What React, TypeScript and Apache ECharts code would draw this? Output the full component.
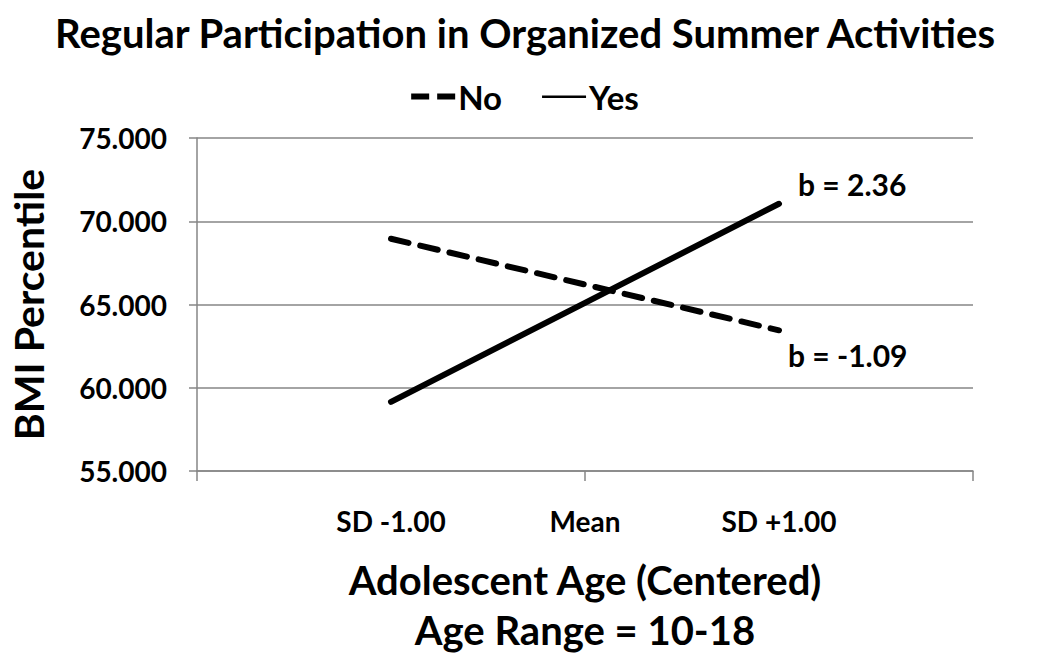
import React, { useEffect, useRef } from "react";
import * as echarts from "echarts";

const categories = ["", "SD -1.00", "Mean", "SD +1.00", ""];
const noValues = [null, 68.95, 66.2, 63.45, null];
const yesValues = [null, 59.15, 65.1, 71.05, null];
const seriesNames = ["No", "Yes"];
const slopeLabels = ["b = 2.36", "b = -1.09"];
const yTicks = [55, 60, 65, 70, 75];

const FONT = "Lato, 'Open Sans', sans-serif";

export default function App() {
  const ref = useRef<HTMLDivElement>(null);
  useEffect(() => {
    if (!ref.current) return;
    const chart = echarts.init(ref.current, null, { renderer: "svg" });
    chart.setOption({
      animation: false,
      backgroundColor: "#fff",
      title: {
        text: "Regular Participation in Organized Summer Activities",
        left: "center",
        top: 8,
        textStyle: { fontFamily: FONT, fontWeight: "bold", fontSize: 40, color: "#000" },
      },
      legend: {
        top: 75,
        left: "center",
        itemWidth: 44,
        itemHeight: 6,
        itemGap: 40,
        textStyle: { fontFamily: FONT, fontWeight: "bold", fontSize: 33, color: "#000", padding: [0, 0, 0, -2] },
        data: [
          { name: seriesNames[0], icon: "path://M0,0h18v6h-18z M26,0h18v6h-18z", itemStyle: { color: "#000" } },
          {
            name: seriesNames[1],
            icon: "path://M0,0h0.01v0.01h-0.01z M0,2h44v2.4h-44z M0,6h0.01v-0.01h-0.01z",
            itemStyle: { color: "#000" },
          },
        ],
      },
      grid: { left: 196, right: 77, top: 138, bottom: 197, containLabel: false },
      xAxis: {
        type: "category",
        data: categories,
        boundaryGap: false,
        name: "Adolescent Age (Centered)\nAge Range = 10-18",
        nameLocation: "middle",
        nameGap: 84,
        nameTextStyle: { fontFamily: FONT, fontWeight: "bold", fontSize: 40, color: "#000", lineHeight: 50 },
        axisLine: { show: true, lineStyle: { color: "#868686", width: 1.5 } },
        axisTick: { show: true, interval: (i: number) => i % 2 === 0, length: 10, lineStyle: { color: "#868686", width: 1.5 } },
        axisLabel: {
          interval: 0,
          margin: 36,
          fontFamily: FONT,
          fontWeight: "bold",
          fontSize: 28,
          color: "#000",
        },
        splitLine: { show: false },
      },
      yAxis: {
        type: "value",
        min: 55,
        max: 75,
        interval: 5,
        name: "BMI Percentile",
        nameLocation: "middle",
        nameGap: 148,
        nameTextStyle: { fontFamily: FONT, fontWeight: "bold", fontSize: 41, color: "#000" },
        axisLine: { show: true, lineStyle: { color: "#868686", width: 1.5 } },
        axisTick: { show: true, length: 8, lineStyle: { color: "#868686", width: 1.5 } },
        axisLabel: {
          margin: 30,
          fontFamily: FONT,
          fontWeight: "bold",
          fontSize: 28,
          color: "#000",
          formatter: (v: number) => (yTicks.includes(v) ? v.toFixed(3) : ""),
        },
        splitLine: { show: true, lineStyle: { color: "#868686", width: 1.5 } },
      },
      series: [
        {
          name: seriesNames[0],
          type: "line",
          data: noValues,
          symbol: "none",
          lineStyle: { color: "#000", width: 6, type: [18, 12], cap: "round" },
          itemStyle: { color: "#000" },
        },
        {
          name: seriesNames[1],
          type: "line",
          data: yesValues,
          symbol: "none",
          lineStyle: { color: "#000", width: 6, type: "solid", cap: "round" },
          itemStyle: { color: "#000" },
        },
      ],
      graphic: [
        {
          type: "text",
          left: 798,
          top: 169,
          style: { text: slopeLabels[0], fontFamily: FONT, fontWeight: "bold", fontSize: 30, fill: "#000" },
        },
        {
          type: "text",
          left: 788,
          top: 340,
          style: { text: slopeLabels[1], fontFamily: FONT, fontWeight: "bold", fontSize: 30, fill: "#000" },
        },
      ],
    });
    return () => chart.dispose();
  }, []);
  return <div ref={ref} style={{ width: 1050, height: 668, margin: -8 }} />;
}
